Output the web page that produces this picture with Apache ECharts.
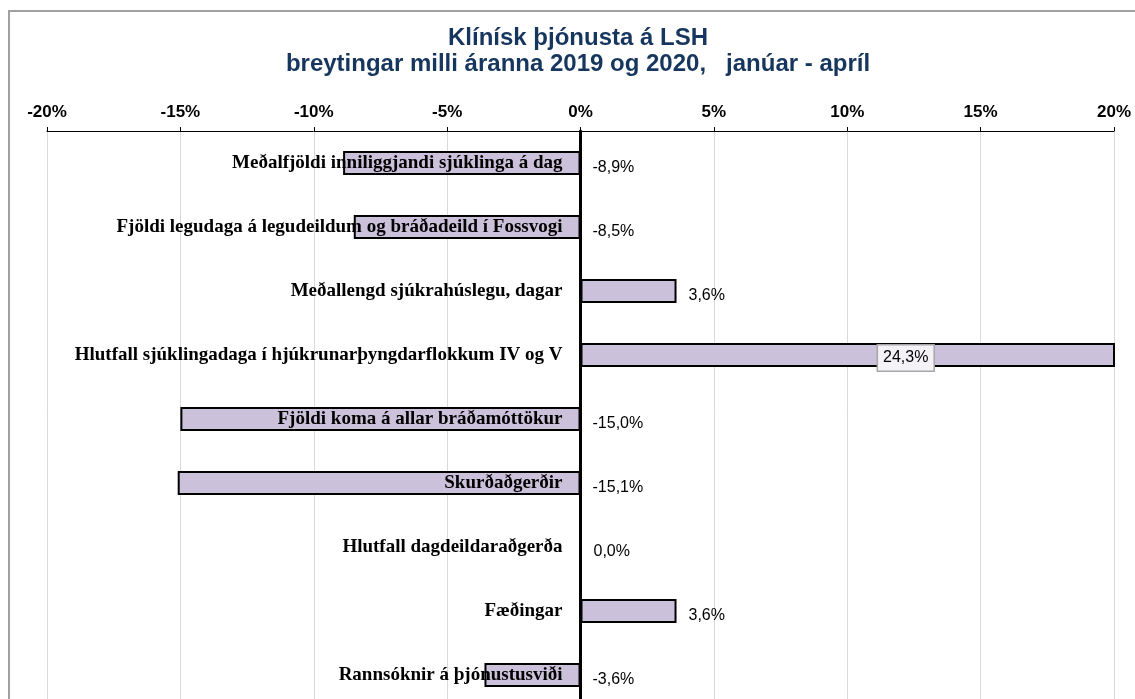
<!DOCTYPE html>
<html lang="is">
<head>
    <meta charset="UTF-8">
    <title>Klínísk þjónusta á LSH</title>
    <script src="https://cdn.jsdelivr.net/npm/echarts@6/dist/echarts.min.js"></script>
    <style>
        html, body { margin: 0; padding: 0; background: #fff; }
        #main { width: 1135px; height: 699px; }
    </style>
</head>
<body>
    <div id="main"></div>
    <script>
        // flokkar (efst til neðst)
        var categories = [
            'Meðalfjöldi inniliggjandi sjúklinga á dag',
            'Fjöldi legudaga á legudeildum og bráðadeild í Fossvogi',
            'Meðallengd sjúkrahúslegu, dagar',
            'Hlutfall sjúklingadaga í hjúkrunarþyngdarflokkum IV og V',
            'Fjöldi koma á allar bráðamóttökur',
            'Skurðaðgerðir',
            'Hlutfall dagdeildaraðgerða',
            'Fæðingar',
            'Rannsóknir á þjónustusviði'
        ];
        // breyting í %
        var changes = [-8.9, -8.5, 3.6, 24.3, -15.0, -15.1, 0.0, 3.6, -3.6];
        var xTicks = [-20, -15, -10, -5, 0, 5, 10, 15, 20];

        var gridLeft = 47, gridWidth = 1067;
        var xMin = xTicks[0], xMax = xTicks[xTicks.length - 1];
        // færa flokkaásinn (og merki hans) að 0-línunni
        var zeroOffset = -gridWidth * (0 - xMin) / (xMax - xMin);

        function pct(v) {
            return v.toFixed(1).replace('.', ',') + '%';
        }

        var seriesData = changes.map(function (v) {
            var item = { value: v };
            if (v > xMax) {
                // eins og í Excel: merkið á miðju óskorinnar súlu, í kassa
                item.label = {
                    position: 'inside',
                    offset: [58, 3],
                    backgroundColor: '#f4f2f7',
                    borderColor: '#a6a6a6',
                    borderWidth: 1.5,
                    padding: [5, 5, 4, 5]
                };
            }
            return item;
        });

        var chart = echarts.init(document.getElementById('main'));
        var option = {
            animation: false,
            graphic: [{
                type: 'rect',
                shape: { x: 9, y: 11, width: 1200, height: 800 },
                style: { fill: 'none', stroke: '#a0a0a0', lineWidth: 2 },
                silent: true
            }, {
                type: 'text',
                x: 578,
                y: 25,
                silent: true,
                style: {
                    text: 'Klínísk þjónusta á LSH\nbreytingar milli áranna 2019 og 2020,   janúar - apríl',
                    align: 'center',
                    fontFamily: 'Liberation Sans, Arial',
                    fontSize: 24,
                    fontWeight: 'bold',
                    fill: '#17365d',
                    lineHeight: 26
                }
            }],
            grid: {
                left: gridLeft, top: 131, width: gridWidth, height: 576,
                containLabel: false,
                outerBoundsMode: 'none'
            },
            xAxis: {
                type: 'value',
                position: 'top',
                min: xMin,
                max: xMax,
                interval: 5,
                axisLine: { show: true, lineStyle: { color: '#000', width: 1 } },
                axisTick: { show: true, length: 4, lineStyle: { color: '#000' } },
                splitLine: { show: true, lineStyle: { color: '#d9d9d9', width: 1 } },
                axisLabel: {
                    margin: 10,
                    fontFamily: 'Liberation Sans, Arial',
                    fontSize: 17,
                    fontWeight: 'bold',
                    color: '#000',
                    formatter: function (v) { return v + '%'; }
                }
            },
            yAxis: {
                type: 'category',
                position: 'left',
                offset: zeroOffset,
                inverse: true,
                data: categories,
                z: 5,
                axisLine: { show: true, onZero: false, lineStyle: { color: '#000', width: 3 } },
                axisTick: { show: false },
                splitLine: { show: false },
                axisLabel: {
                    margin: 18,
                    fontFamily: 'Liberation Serif, Times New Roman',
                    fontSize: 19,
                    fontWeight: 'bold',
                    color: '#000'
                }
            },
            series: [{
                type: 'bar',
                data: seriesData,
                barWidth: 24,
                clip: true,
                itemStyle: { color: '#ccc1da', borderColor: '#000', borderWidth: 2 },
                label: {
                    show: true,
                    position: 'right',
                    distance: 12,
                    offset: [0, 5],
                    fontFamily: 'Liberation Sans, Arial',
                    fontSize: 16,
                    color: '#000',
                    formatter: function (p) { return pct(p.value); }
                }
            }]
        };
        chart.setOption(option);
    </script>
</body>
</html>
